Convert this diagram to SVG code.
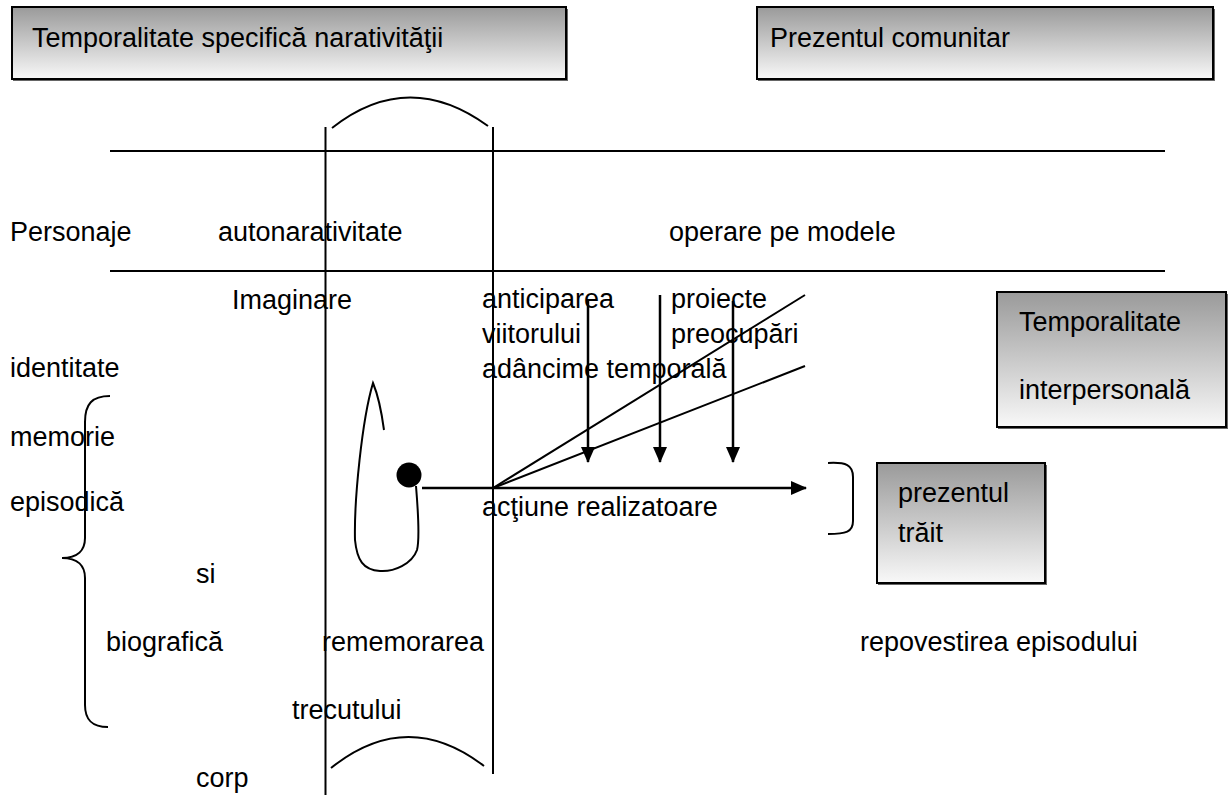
<svg xmlns="http://www.w3.org/2000/svg" width="1230" height="795" viewBox="0 0 1230 795">
<defs>
<linearGradient id="g" x1="0" y1="0" x2="0" y2="1">
<stop offset="0" stop-color="#9a9a9a"/>
<stop offset="1" stop-color="#f8f8f8"/>
</linearGradient>
<marker id="ah" viewBox="0 0 16 14" refX="15" refY="7" markerWidth="16" markerHeight="14" markerUnits="userSpaceOnUse" orient="auto">
<path d="M0,0 L16,7 L0,14 z" fill="#000"/>
</marker>
</defs>
<style>
text{font-family:"Liberation Sans",Arial,sans-serif;font-size:27px;fill:#000}
.box{fill:url(#g);stroke:#000;stroke-width:2}
.sh{fill:#666}
.ln{stroke:#000;stroke-width:2;fill:none}
.ar{stroke:#000;stroke-width:2.5;fill:none;marker-end:url(#ah)}
</style>
<rect width="1230" height="795" fill="#fff"/>

<g id="box-narativitate">
<rect class="sh" x="13" y="9" width="555" height="72"/>
<rect class="box" x="12" y="7" width="554" height="72"/>
<text x="32" y="47">Temporalitate specifică narativităţii</text>
</g>

<g id="box-comunitar">
<rect class="sh" x="758" y="9" width="457" height="72"/>
<rect class="box" x="757" y="7" width="456" height="72"/>
<text x="770" y="47">Prezentul comunitar</text>
</g>

<g id="box-interpersonala">
<rect class="sh" x="998" y="294" width="230" height="135"/>
<rect class="box" x="997" y="292" width="229" height="135"/>
<text x="1019" y="331">Temporalitate</text>
<text x="1019" y="399">interpersonală</text>
</g>

<g id="box-prezentul-trait">
<rect class="sh" x="878" y="465" width="169" height="120"/>
<rect class="box" x="877" y="463" width="168" height="120"/>
<text x="898" y="502">prezentul</text>
<text x="898" y="542">trăit</text>
</g>

<g id="labels">
<text x="10" y="241">Personaje</text>
<text x="218" y="241">autonarativitate</text>
<text x="669" y="241">operare pe modele</text>
<text x="232" y="309">Imaginare</text>
<text x="482" y="308">anticiparea</text>
<text x="671" y="308">proiecte</text>
<text x="482" y="343">viitorului</text>
<text x="671" y="343">preocupări</text>
<text x="482" y="378">adâncime temporală</text>
<text x="10" y="377">identitate</text>
<text x="10" y="446">memorie</text>
<text x="10" y="511">episodică</text>
<text x="482" y="516">acţiune realizatoare</text>
<text x="196" y="583">si</text>
<text x="106" y="651">biografică</text>
<text x="322" y="651">rememorarea</text>
<text x="860" y="651">repovestirea episodului</text>
<text x="292" y="719">trecutului</text>
<text x="196" y="787">corp</text>
</g>

<g id="connectors">
<line class="ln" x1="110" y1="151" x2="1165" y2="151"/>
<line class="ln" x1="110" y1="271" x2="1165" y2="271"/>
<line class="ln" x1="325.5" y1="127" x2="325.5" y2="795"/>
<line class="ln" x1="493" y1="127" x2="493" y2="774"/>
<path class="ln" d="M332,128 Q408,68 488,126"/>
<path class="ln" d="M331,768 Q407,707 484,766"/>
<line class="ln" x1="493" y1="488" x2="805" y2="295"/>
<line class="ln" x1="493" y1="488" x2="805" y2="366"/>
<line class="ar" x1="588" y1="300" x2="588" y2="462"/>
<line class="ar" x1="660" y1="295" x2="660" y2="462"/>
<line class="ar" x1="733" y1="301" x2="733" y2="462"/>
<line class="ar" x1="422" y1="488" x2="806" y2="488"/>
<circle cx="409" cy="475" r="12.5" fill="#000"/>
<path class="ln" d="M416,486 C418,510 420,538 417,550 C412,564 394,572 380,571 C363,570 357,560 355,540 C354,500 362,420 373,383 C378,395 382,415 384,430"/>
<path class="ln" d="M828,463 C846,462 853,465 853,477 L853,521 C853,532 846,534 828,534"/>
<path class="ln" d="M110,396 C92,396 85,404 85,422 L85,538 C85,550 78,558 62,558 C78,558 85,566 85,578 L85,705 C85,720 92,727 108,727"/>
</g>
</svg>
